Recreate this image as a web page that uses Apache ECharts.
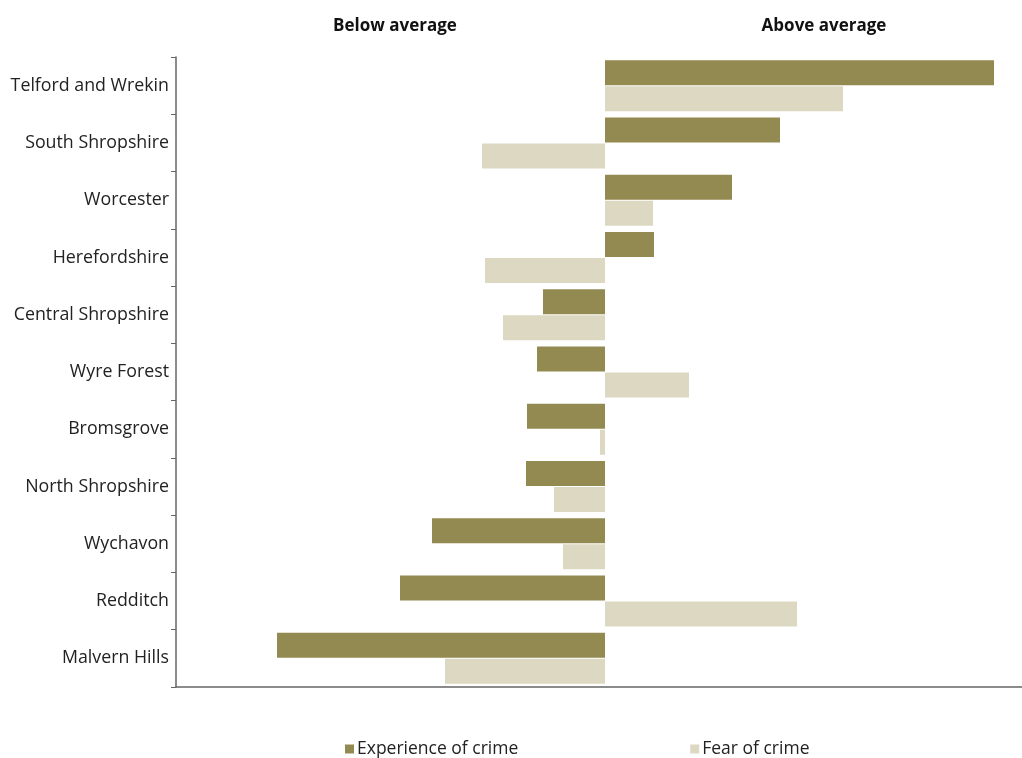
<!DOCTYPE html>
<html>
<head>
<meta charset="utf-8">
<script src="https://cdn.jsdelivr.net/npm/echarts@6/dist/echarts.min.js"></script>
<style>html,body{margin:0;padding:0;background:#fff;}#c{width:1022px;height:758px;}</style>
</head>
<body>
<div id="c"></div>
<script>
const categories = ["Telford and Wrekin","South Shropshire","Worcester","Herefordshire","Central Shropshire","Wyre Forest","Bromsgrove","North Shropshire","Wychavon","Redditch","Malvern Hills"];
const experienceOfCrime = [38.9, 17.5, 12.7, 4.9, -6.2, -6.8, -7.8, -7.9, -17.3, -20.5, -32.8];
const fearOfCrime = [23.8, -12.3, 4.8, -12.0, -10.2, 8.4, -0.5, -5.1, -4.2, 19.2, -16.0];
const seriesNames = ["Experience of crime", "Fear of crime"];
const headers = ["Below average", "Above average"];

const FONT = '"Open Sans", Lato, sans-serif';
const chart = echarts.init(document.getElementById('c'), null, {renderer: 'canvas'});
chart.setOption({
  animation: false,
  backgroundColor: '#ffffff',
  textStyle: {fontFamily: FONT},
  title: [
    {text: headers[0], left: 390, top: 13, textAlign: 'center',
     textStyle: {fontFamily: FONT, fontWeight: 'bold', fontSize: 17, color: '#111'}},
    {text: headers[1], left: 819, top: 13, textAlign: 'center',
     textStyle: {fontFamily: FONT, fontWeight: 'bold', fontSize: 17, color: '#111'}}
  ],
  legend: {
    data: seriesNames,
    left: 340, top: 735,
    itemWidth: 9, itemHeight: 9, itemGap: 172,
    icon: 'rect',
    textStyle: {fontFamily: FONT, fontSize: 17.5, color: '#222', padding: [0,0,0,-2]}
  },
  grid: {left: 176, right: 0, top: 57, bottom: 71, containLabel: false},
  xAxis: {
    type: 'value', min: -42.9, max: 41.7,
    axisLine: {show: true, onZero: false, lineStyle: {color: '#666', width: 1.5}},
    axisTick: {show: false}, axisLabel: {show: false}, splitLine: {show: false}
  },
  yAxis: {
    type: 'category', data: categories, inverse: true,
    axisLine: {show: true, onZero: false, lineStyle: {color: '#666', width: 1.5}},
    axisTick: {show: true, length: 5, inside: false, lineStyle: {color: '#666'}},
    axisLabel: {fontFamily: FONT, fontSize: 17.8, color: '#222', margin: 7},
    splitLine: {show: false}
  },
  series: [
    {name: seriesNames[0], type: 'bar', data: experienceOfCrime, barWidth: 25, barGap: '4%',
     barCategoryGap: '10%', itemStyle: {color: '#938A52'}},
    {name: seriesNames[1], type: 'bar', data: fearOfCrime, barWidth: 25, barGap: '4%',
     itemStyle: {color: '#DDD8C2'}}
  ]
});
</script>
</body>
</html>
